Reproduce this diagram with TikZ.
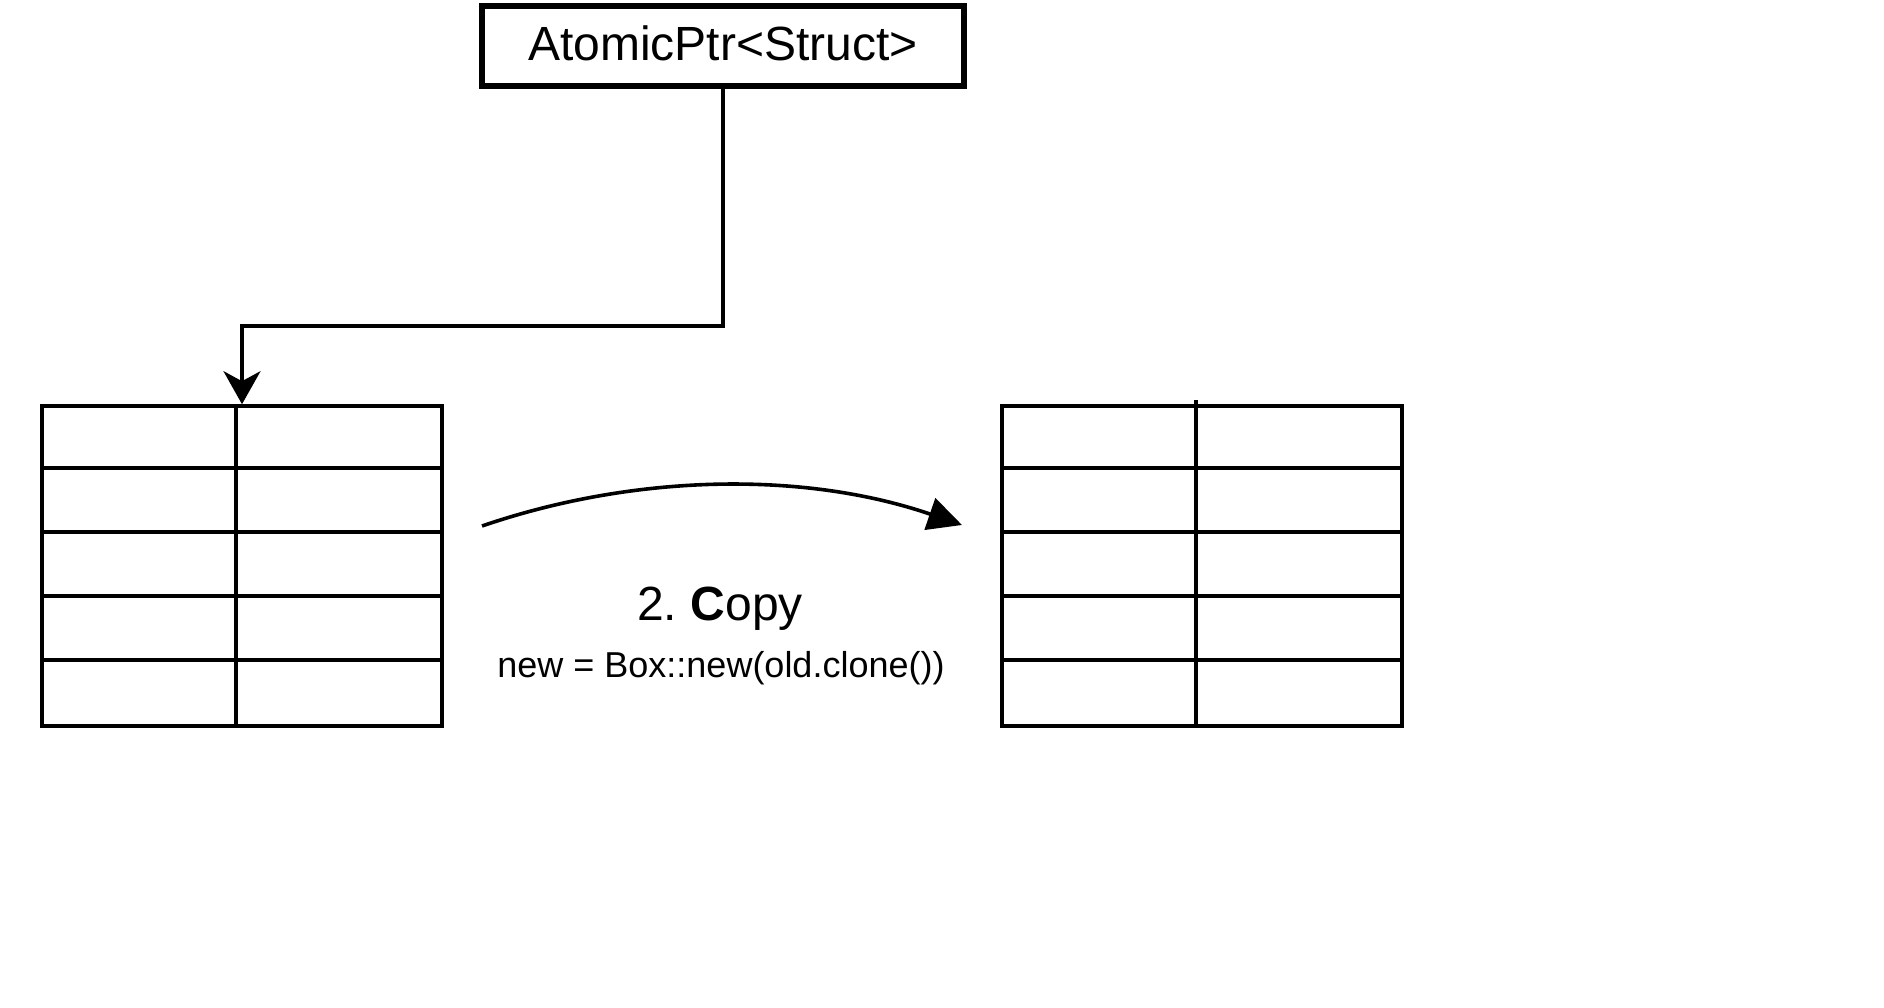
\documentclass[tikz,border=0pt]{standalone}
\usepackage{fontspec}
\setmainfont{Liberation Sans}
\usetikzlibrary{arrows.meta}
\begin{document}
\begin{tikzpicture}[x=1pt,y=-1pt,
  ptrbox/.style={draw, line width=6.5pt, minimum width=482pt, minimum height=80pt,
    inner sep=0pt, text height=37pt, text depth=8pt, font=\fontsize{48}{56}\selectfont},
  tablebox/.style={draw, line width=3.6pt, minimum width=400pt, minimum height=320pt, inner sep=0pt},
  gridline/.style={line width=3.6pt},
  link/.style={line width=3.6pt},
  bigtext/.style={anchor=base, inner sep=0pt, font=\fontsize{48}{56}\selectfont},
  smalltext/.style={anchor=base, inner sep=0pt, font=\fontsize{36}{42}\selectfont},
]
\frenchspacing
\useasboundingbox (0,0) rectangle (1884,1008);

% pointer box
\node[ptrbox] (ptr) at (723,46) {AtomicPtr<Struct>};

% tables
\node[tablebox] (lt) at (242,566) {};
\node[tablebox] (rt) at (1202,566) {};

\foreach \t in {lt,rt}{
  \foreach \k in {1,2,3,4}{
    \draw[gridline] ([yshift=-64*\k pt]\t.north west) -- ([yshift=-64*\k pt]\t.north east);
  }
}
\draw[gridline] ([xshift=196pt]lt.north west) -- ([xshift=196pt]lt.south west);
\draw[gridline] ([xshift=196pt,yshift=4pt]rt.north west) -- ([xshift=196pt]rt.south west);

% connector from pointer to left table
\coordinate (elbow) at (723,326);
\draw[link, -{Stealth[length=33pt,width=37pt,inset=10pt]}]
  (ptr.south) -- (elbow) -| (lt.north);

% curved copy arrow
\coordinate (cs) at (482,526);
\coordinate (ce) at (962,525);
\draw[link, -{Triangle[length=34pt,width=33pt]}]
  (cs) .. controls (637.6,472.7) and (806.4,471.7) .. (ce);

% labels
\node[bigtext] (lbl) at (720,620) {2. \textbf{C}opy};
\node[smalltext] (code) at (721,677) {new = Box::new(old.clone())};
\end{tikzpicture}
\end{document}
